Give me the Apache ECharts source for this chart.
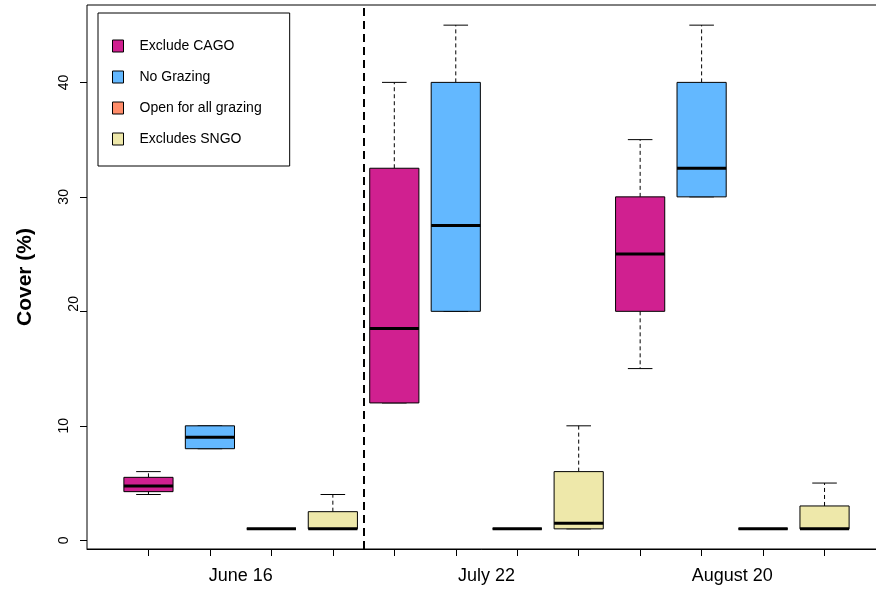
<!DOCTYPE html>
<html>
<head>
<meta charset="utf-8">
<script src="https://cdn.jsdelivr.net/npm/echarts@6/dist/echarts.min.js"></script>
<style>
  html, body { margin: 0; padding: 0; background: #fff; }
  #chart { width: 876px; height: 590px; }
</style>
</head>
<body>
<div id="chart"></div>
<script>
// Sampling dates and grazing treatments
const dates = ['June 16', 'July 22', 'August 20'];
const groups = ['Exclude CAGO', 'No Grazing', 'Open for all grazing', 'Excludes SNGO'];
const colors = ['#D02090', '#63B8FF', '#FF8C69', '#EEE8AA'];

// Five-number summaries [min, Q1, median, Q3, max] of cover (%), one per date
const excludeCago  = [[4, 4.25, 4.75, 5.5, 6], [12, 12, 18.5, 32.5, 40], [15, 20, 25, 30, 35]];
const noGrazing    = [[8, 8, 9, 10, 10], [20, 20, 27.5, 40, 45], [30, 30, 32.5, 40, 45]];
const openGrazing  = [[1, 1, 1, 1, 1], [1, 1, 1, 1, 1], [1, 1, 1, 1, 1]];
const excludesSngo = [[1, 1, 1, 2.5, 4], [1, 1, 1.5, 6, 10], [1, 1, 1, 3, 5]];

const yTicks = [0, 10, 20, 30, 40];

const summaries = [excludeCago, noGrazing, openGrazing, excludesSngo];
const nGroups = groups.length;

// box slot for each (date, treatment) pair: 1..12 along the x axis
const xTicks = [];
dates.forEach((d, i) => groups.forEach((g, j) => xTicks.push(i * nGroups + j + 1)));
const xLabelPos = dates.map((d, i) => i * nGroups + (nGroups + 1) / 2);
const separator = nGroups + 0.5;

const FONT = "'Liberation Sans', Arial, Helvetica, sans-serif";

function renderBox(params, api) {
  const x = api.value(0);
  const lo = api.value(1), q1 = api.value(2), med = api.value(3), q3 = api.value(4), hi = api.value(5);
  const boxHalf = api.size([0.4, 0])[0];
  const capHalf = api.size([0.2, 0])[0];
  const c = v => api.coord([x, v]);
  const pLo = c(lo), pQ1 = c(q1), pMed = c(med), pQ3 = c(q3), pHi = c(hi);
  const cx = pMed[0];
  const whisker = { stroke: '#000', lineWidth: 1, lineDash: [4, 3], fill: null };
  const solid = { stroke: '#000', lineWidth: 1, fill: null };
  return {
    type: 'group',
    children: [
      { type: 'line', shape: { x1: cx, y1: pQ3[1], x2: cx, y2: pHi[1] }, style: whisker },
      { type: 'line', shape: { x1: cx, y1: pQ1[1], x2: cx, y2: pLo[1] }, style: whisker },
      { type: 'line', shape: { x1: cx - capHalf, y1: pHi[1], x2: cx + capHalf, y2: pHi[1] }, style: solid },
      { type: 'line', shape: { x1: cx - capHalf, y1: pLo[1], x2: cx + capHalf, y2: pLo[1] }, style: solid },
      { type: 'rect', shape: { x: cx - boxHalf, y: pQ3[1], width: 2 * boxHalf, height: pQ1[1] - pQ3[1] },
        style: { fill: api.visual('color'), stroke: '#000', lineWidth: 1 } },
      { type: 'line', shape: { x1: cx - boxHalf, y1: pMed[1], x2: cx + boxHalf, y2: pMed[1] },
        style: { stroke: '#000', lineWidth: 3, fill: null } }
    ]
  };
}

const series = groups.map((name, j) => ({
  type: 'custom',
  name: name,
  renderItem: renderBox,
  itemStyle: { color: colors[j] },
  encode: { x: 0, y: [1, 2, 3, 4, 5] },
  data: summaries[j].map((s, i) => [i * nGroups + j + 1].concat(s)),
  z: 2
}));

// dashed divider between the first date and the later ones
series[0].markLine = {
  silent: true,
  symbol: 'none',
  label: { show: false },
  lineStyle: { color: '#000', type: [8, 5], width: 2 },
  data: [{ xAxis: separator }]
};

const chart = echarts.init(document.getElementById('chart'), null, { renderer: 'canvas' });
chart.setOption({
  animation: false,
  backgroundColor: '#fff',
  textStyle: { fontFamily: FONT },
  grid: {
    left: 87, top: 5, width: 799, height: 544,
    outerBoundsMode: 'none',
    containLabel: false,
    show: true, borderColor: '#000', borderWidth: 1, backgroundColor: 'transparent'
  },
  legend: {
    orient: 'vertical',
    left: 98, top: 13,
    padding: [26, 28, 20, 14],
    itemGap: 17,
    itemWidth: 11,
    itemHeight: 12,
    icon: 'rect',
    borderColor: '#000',
    borderWidth: 1,
    backgroundColor: '#fff',
    textStyle: { fontSize: 14, color: '#000', fontFamily: FONT, padding: [0, 0, 0, 11] },
    data: groups.map((name, j) => ({
      name: name,
      itemStyle: { color: colors[j], borderColor: '#000', borderWidth: 1 }
    }))
  },
  xAxis: {
    type: 'value',
    min: 0, max: 13,
    splitLine: { show: false },
    axisLine: { show: true, onZero: false, lineStyle: { color: '#000', width: 1 } },
    axisTick: { show: true, customValues: xTicks, length: 7, lineStyle: { color: '#000' } },
    axisLabel: {
      customValues: xLabelPos,
      formatter: v => dates[Math.round((v - (nGroups + 1) / 2) / nGroups)],
      fontSize: 18, color: '#000', margin: 18, fontFamily: FONT
    }
  },
  yAxis: {
    type: 'value',
    min: -0.76, max: 46.76,
    splitLine: { show: false },
    axisLine: { show: false, onZero: false },
    axisTick: { show: true, customValues: yTicks, length: 7, lineStyle: { color: '#000' } },
    axisLabel: {
      customValues: yTicks, rotate: 90, color: '#000', margin: 5.5,
      // the "20" label sits nudged toward the axis, the rest keep a regular gap
      formatter: v => (v === 20 ? '{nudged|' + v + '}' : '{tick|' + v + '}'),
      rich: {
        tick: { fontSize: 14, color: '#000', fontFamily: FONT, padding: [0, 0, 10.5, 0] },
        nudged: { fontSize: 14, color: '#000', fontFamily: FONT, padding: [0, 0, 0, 15] }
      }
    },
    name: 'Cover (%)',
    nameLocation: 'middle',
    nameRotate: 90,
    nameGap: 51,
    nameTextStyle: { fontSize: 21, fontWeight: 'bold', color: '#000', fontFamily: FONT }
  },
  series: series
});
</script>
</body>
</html>
